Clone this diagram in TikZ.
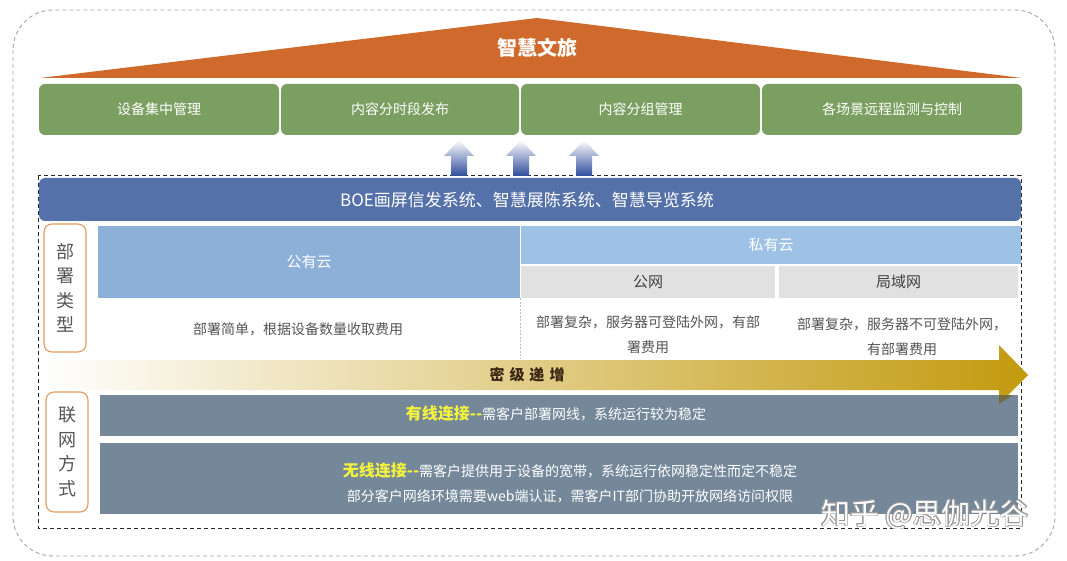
\documentclass[tikz,border=0pt]{standalone}
\usepackage{fontspec}
\setmainfont{Noto Sans CJK SC}
\usepackage{contour}
\contourlength{0.6pt}
\usetikzlibrary{positioning}
\definecolor{orangeroof}{HTML}{D06A2C}
\definecolor{greenbox}{HTML}{7B9F60}
\definecolor{bluebar}{HTML}{5571A9}
\definecolor{pubcloud}{HTML}{8DB0D9}
\definecolor{privcloud}{HTML}{9DC2E5}
\definecolor{grayhead}{HTML}{E1E1E1}
\definecolor{slate}{HTML}{74889A}
\definecolor{labelborder}{HTML}{E59A5C}
\definecolor{gold}{HTML}{C39A0E}
\definecolor{bodytext}{HTML}{555555}
\definecolor{arrowblue}{HTML}{2F4C9C}
\definecolor{hiyellow}{HTML}{F4F43C}
\tikzset{
  fnt/.style={font=\fontsize{#1}{#1}\selectfont},
  fntb/.style={font=\fontsize{#1}{#1}\selectfont\bfseries},
  featbox/.style={fill=greenbox, rounded corners=6pt, text=white, inner sep=0pt, fnt=14},
  cellbox/.style={inner sep=0pt, fnt=15},
  labelbox/.style={draw=labelborder, line width=1.1pt, fill=white, rounded corners=8pt, text=bodytext, inner sep=0pt, align=center, font=\fontsize{18}{24.5}\selectfont},
  bodynote/.style={text=bodytext, align=center, inner sep=0pt, font=\fontsize{14}{25}\selectfont},
  netbar/.style={fill=slate, inner sep=0pt},
  uparrow/.style={top color=white, bottom color=arrowblue, draw=none},
}
\begin{document}
\begin{tikzpicture}[x=1pt,y=-1pt]
\useasboundingbox (0,0) rectangle (1067,561);
\fill[white] (0,0) rectangle (1067,561);
% outer dashed frame
\draw[gray!70, line width=0.9pt, dash pattern=on 4pt off 3pt, rounded corners=40pt] (13,10) rectangle (1055,556);
% roof
\fill[orangeroof] (40,78) -- (537,18) -- (1022,78) -- cycle;
\node[text=white, fntb=20] (roof) at (537,48) {智慧文旅};
% feature boxes
\node[featbox, minimum width=240pt, minimum height=51pt] (f1) at (159,109.5) {设备集中管理};
\node[featbox, minimum width=238pt, minimum height=51pt] (f2) at (400,109.5) {内容分时段发布};
\node[featbox, minimum width=239pt, minimum height=51pt] (f3) at (640.5,109.5) {内容分组管理};
\node[featbox, minimum width=260pt, minimum height=51pt] (f4) at (892,109.5) {各场景远程监测与控制};
% inner dashed frame
\draw[black!85, line width=1pt, dash pattern=on 4pt off 3pt] (38,176) rectangle (1021,528);
% up arrows
\foreach \cx/\nm in {459/ua, 521/ub, 584/uc}{
  \shade[uparrow] (\cx,140) -- (\cx+15,156) -- (\cx+8,156) -- (\cx+8,176) -- (\cx-8,176) -- (\cx-8,156) -- (\cx-15,156) -- cycle;
}
% system bar
\node[fill=bluebar, rounded corners=6pt, minimum width=982pt, minimum height=43pt, inner sep=0pt] (sys) at (530,199.5) {};
\node[text=white, fnt=17] (systext) at (527,199.5) {BOE画屏信发系统、智慧展陈系统、智慧导览系统};
% deployment label
\node[labelbox, minimum width=42pt, minimum height=128pt] (deplabel) at (65,288) {部\\署\\类\\型};
% cloud headers
\node[cellbox, fill=pubcloud, text=white, minimum width=422pt, minimum height=72pt] (pub) at (309,262) {公有云};
\node[cellbox, fill=privcloud, text=white, minimum width=500pt, minimum height=38pt] (priv) at (771,245) {私有云};
\node[cellbox, fill=grayhead, text=black!75, minimum width=254pt, minimum height=32pt] (pubnet) at (648,282) {公网};
\node[cellbox, fill=grayhead, text=black!75, minimum width=239pt, minimum height=32pt] (lan) at (898.5,282) {局域网};
% separator
\draw[gray!50, dash pattern=on 2pt off 1.5pt, line width=0.6pt] (pub.south east) -- ++(0,60);
% notes
\node[bodynote] (pubnote) at (298,329) {部署简单，根据设备数量收取费用};
\node[bodynote] (pubnetnote) at (648,334.5) {部署复杂，服务器可登陆外网，有部\\署费用};
\node[bodynote] (lannote) at (902,337) {部署复杂，服务器不可登陆外网，\\有部署费用};
% golden arrow
\shade[left color=white, middle color=gold!40!white, right color=gold] (40,360) -- (999,360) -- (999,345) -- (1028,375) -- (999,404) -- (999,390) -- (40,390) -- cycle;
\node[text=black!70!brown, fntb=15] (secret) at (527,375) {密\hspace{5pt}级\hspace{5pt}递\hspace{5pt}增};
% network label
\node[labelbox, minimum width=42pt, minimum height=120pt] (netlabel) at (67,452) {联\\网\\方\\式};
% wired bar
\node[netbar, minimum width=918pt, minimum height=41pt] (wired) at (559,415.5) {};
\fill[gold!60!black, opacity=0.6] (999,395) -- (1013,395) -- (999,404) -- cycle;
\node[text=white, fnt=14] (wiredtext) at (556,413) {\textcolor{hiyellow}{\fontsize{16}{16}\selectfont\bfseries 有线连接{-}{-}}需客户部署网线，系统运行较为稳定};
% wireless bar
\node[netbar, minimum width=918pt, minimum height=71pt] (wireless) at (559,478.5) {};
\node[text=white, fnt=14] (wl1) at (570,470) {\textcolor{hiyellow}{\fontsize{16}{16}\selectfont\bfseries 无线连接{-}{-}}需客户提供用于设备的宽带，系统运行依网稳定性而定不稳定};
\node[text=white, fnt=14] (wl2) at (570,496) {部分客户网络环境需要web端认证，需客户IT部门协助开放网络访问权限};
% watermark
\node[fnt=29] (wm) at (925,515) {\contour{gray!80}{\textcolor{white}{知乎 @思伽光谷}}};
\end{tikzpicture}
\end{document}
